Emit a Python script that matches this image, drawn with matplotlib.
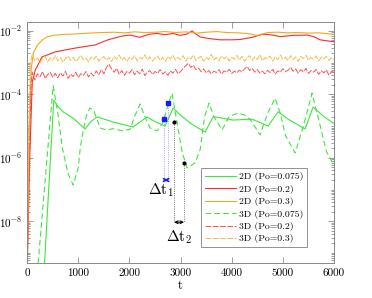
import numpy as np
import matplotlib
matplotlib.use("Agg")
import matplotlib.pyplot as plt
from matplotlib.ticker import FixedLocator, LogLocator, NullFormatter

plt.rcParams["font.family"] = ["cmr10", "DejaVu Serif"]
plt.rcParams["mathtext.fontset"] = "cm"
plt.rcParams["axes.formatter.use_mathtext"] = True

# ---- data (log10 of amplitude vs time t) ----
t_2d_075 = [330, 520, 600, 703, 900, 1133, 1250, 1368, 1700, 2070, 2345, 2500,
            2697, 2853, 3000, 3200, 3479, 3635, 3674, 4026, 4397, 4710, 4905,
            5100, 5433, 5590, 5800, 6000]
y_2d_075 = [-9.6, -4.18, -4.38, -4.55, -4.75, -5.09, -4.85, -4.71, -4.88, -5.03,
            -4.71, -4.86, -5.00, -4.43, -4.66, -4.92, -5.19, -4.71, -4.71, -4.81,
            -4.78, -5.00, -4.55, -4.78, -5.09, -4.40, -4.70, -4.92]

t_2d_02 = [0, 50, 100, 160, 290, 550, 940, 1330, 1580, 1860, 2010, 2200, 2400,
           2540, 2700, 2850, 2990, 3120, 3225, 3300, 3380, 3550, 3772, 4000,
           4163, 4400, 4612, 4800, 4944, 5200, 5472, 5600, 5726, 5900, 6000]
y_2d_02 = [-9.6, -6.0, -3.6, -3.23, -2.82, -2.66, -2.54, -2.44, -2.28, -2.16,
           -2.13, -2.20, -2.10, -2.08, -2.12, -2.08, -2.14, -2.10, -2.00, -2.10,
           -2.19, -2.24, -2.28, -2.28, -2.27, -2.20, -2.10, -2.13, -2.18, -2.14,
           -2.13, -2.18, -2.28, -2.32, -2.34]

t_2d_03 = [0, 40, 80, 120, 200, 300, 400, 550, 700, 900, 1100, 1300, 1500, 1700,
           1900, 2100, 2300, 2500, 2700, 2900, 3100, 3300, 3500, 3700, 3900,
           4100, 4300, 4500, 4700, 4900, 5100, 5300, 5500, 5700, 5900, 6000]
y_2d_03 = [-9.6, -5.0, -3.2, -2.70, -2.45, -2.28, -2.18, -2.13, -2.11, -2.10,
           -2.08, -2.06, -2.05, -2.04, -2.06, -2.03, -2.05, -2.04, -2.02, -2.05,
           -2.03, -2.07, -2.04, -2.02, -2.05, -2.06, -2.08, -2.14, -2.05, -2.04,
           -2.06, -2.05, -2.07, -2.06, -2.09, -2.11]

t_3d_075 = [200, 508, 600, 684, 800, 900, 1000, 1040, 1100, 1170, 1230, 1300,
            1427, 1550, 1700, 1850, 2012, 2100, 2208, 2300, 2404, 2540, 2650,
            2760, 2833, 2900, 3029, 3127, 3283, 3381, 3470, 3557, 3650, 3811,
            3950, 4124, 4250, 4358, 4554, 4700, 4847, 4950, 5050, 5238, 5400,
            5570, 5700, 5850, 5960, 6000]
y_3d_075 = [-9.6, -3.73, -4.6, -5.66, -6.5, -6.86, -6.3, -5.66, -5.1, -4.6,
            -4.43, -4.5, -5.06, -5.12, -5.08, -5.15, -5.10, -4.70, -4.30, -4.70,
            -5.06, -5.15, -4.90, -4.30, -3.96, -4.60, -5.82, -6.32, -6.16, -5.75,
            -4.70, -4.27, -4.70, -5.12, -4.70, -4.59, -4.65, -4.78, -5.28, -4.60,
            -4.12, -4.60, -5.30, -5.85, -5.00, -3.96, -4.80, -5.80, -6.13, -6.00]

t_noisy = np.arange(100, 6001, 50)

t_3d_02_head = [0, 40, 80]
y_3d_02_head = [-9.6, -6.0, -3.6]
y_3d_02 = [-3.30, -3.55, -3.35, -3.45, -3.28, -3.50, -3.38, -3.30, -3.46, -3.34,
           -3.48, -3.32, -3.42, -3.27, -3.50, -3.36, -3.44, -3.30, -3.47, -3.35,
           -3.40, -3.28, -3.45, -3.33, -3.42, -3.26, -3.38, -3.22, -3.35, -3.15,
           -3.05, -3.20, -3.30, -3.18, -3.36, -3.25, -3.40, -3.28, -3.33, -3.22,
           -3.38, -3.27, -3.35, -3.20, -3.41, -3.30, -3.25, -3.37, -3.28, -3.34,
           -3.22, -3.36, -3.29, -3.40, -3.26, -3.33, -3.21, -3.35, -3.28, -3.18,
           -3.10, -3.02, -3.15, -3.08, -3.22, -3.17, -3.28, -3.20, -3.32, -3.25,
           -3.35, -3.27, -3.31, -3.22, -3.36, -3.26, -3.30, -3.21, -3.34, -3.27,
           -3.32, -3.24, -3.29, -3.20, -3.12, -3.25, -3.18, -3.30, -3.22, -3.33,
           -3.27, -3.35, -3.24, -3.31, -3.21, -3.36, -3.26, -3.30, -3.19, -3.28,
           -3.24, -3.15, -3.27, -3.20, -3.33, -3.22, -3.29, -3.18, -3.34, -3.25,
           -3.30, -3.21, -3.37, -3.26, -3.32, -3.23, -3.40, -3.28, -3.30]

t_3d_03_head = [0, 30, 60]
y_3d_03_head = [-9.6, -5.5, -3.0]
y_3d_03 = [-2.75, -2.95, -2.85, -3.00, -2.88, -2.80, -2.97, -2.86, -2.92, -2.78,
           -2.94, -2.84, -2.99, -2.87, -2.79, -2.93, -2.83, -2.96, -2.88, -2.77,
           -2.91, -2.85, -2.98, -2.82, -2.90, -2.79, -2.95, -2.86, -2.81, -2.93,
           -2.84, -2.97, -2.80, -2.89, -2.76, -2.92, -2.85, -2.96, -2.83, -2.90,
           -2.78, -2.94, -2.84, -2.88, -2.75, -2.91, -2.82, -2.95, -2.86, -2.79,
           -2.93, -2.83, -2.97, -2.81, -2.89, -2.77, -2.92, -2.84, -2.90, -2.78,
           -2.95, -2.82, -2.88, -2.76, -2.93, -2.85, -2.80, -2.96, -2.83, -2.90,
           -2.74, -2.91, -2.84, -2.94, -2.79, -2.87, -2.81, -2.95, -2.83, -2.89,
           -2.77, -2.92, -2.80, -2.96, -2.85, -2.78, -2.93, -2.82, -2.90, -2.75,
           -2.94, -2.84, -2.88, -2.79, -2.95, -2.81, -2.91, -2.76, -2.89, -2.83,
           -2.93, -2.78, -2.90, -2.82, -2.96, -2.80, -2.87, -2.77, -2.92, -2.84,
           -2.89, -2.79, -2.94, -2.83, -2.88, -2.80, -2.93, -2.85, -2.90]

# annotation points
dt1_t = [2677, 2756]
dt1_y = [-4.78, -4.27]
dt1_base = -6.70
dt2_t = [2873, 3068]
dt2_y = [-4.87, -6.16]
dt2_base = -8.03

xticks = [0, 1000, 2000, 3000, 4000, 5000, 6000]
yticks = [-8, -6, -4, -2]

green = "#3ee63e"
red = "#ff2a2a"
orange = "#f4a81c"
red_l = "#ff5050"
orange_l = "#f5bb4a"

fig = plt.figure(figsize=(3.72, 2.98), dpi=100)
ax = fig.add_axes([0.073, 0.117, 0.825, 0.809])

p = lambda v: 10.0 ** np.asarray(v)

ax.plot(t_2d_075, p(y_2d_075), color=green, lw=0.8, label="2D (Po=0.075)")
ax.plot(t_2d_02, p(y_2d_02), color=red, lw=0.8, label="2D (Po=0.2)")
ax.plot(t_2d_03, p(y_2d_03), color=orange, lw=0.8, label="2D (Po=0.3)")
ax.plot(t_3d_075, p(y_3d_075), color=green, lw=0.8, ls=(0, (5, 3)),
        label="3D (Po=0.075)")
ax.plot(np.r_[t_3d_02_head, t_noisy], p(np.r_[y_3d_02_head, y_3d_02]),
        color=red_l, lw=0.7, ls=(0, (6, 1.5)), label="3D (Po=0.2)")
ax.plot(np.r_[t_3d_03_head, t_noisy], p(np.r_[y_3d_03_head, y_3d_03]),
        color=orange_l, lw=0.7, ls=(0, (6, 1.5)), label="3D (Po=0.3)")

# delta t annotations
for tt, yy in zip(dt1_t, dt1_y):
    ax.plot([tt, tt], [p(yy), p(dt1_base)], color="#8888ff", lw=0.6, ls=":")
ax.plot(dt1_t, p(dt1_y), "s", color="#1a1aff", ms=3.5)
ax.annotate("", xy=(dt1_t[0], p(dt1_base)), xytext=(dt1_t[1], p(dt1_base)),
            arrowprops=dict(arrowstyle="<->", color="#1a1aff", lw=1.2,
                            shrinkA=0, shrinkB=0, mutation_scale=5))
ax.text(2610, p(-7.02), r"$\Delta\mathrm{t}_1$", fontsize=11, ha="center",
        va="center")

for tt, yy in zip(dt2_t, dt2_y):
    ax.plot([tt, tt], [p(yy), p(dt2_base)], color="#444444", lw=0.6, ls=":")
ax.plot(dt2_t, p(dt2_y), "o", color="black", ms=2)
ax.annotate("", xy=(dt2_t[0], p(dt2_base)), xytext=(dt2_t[1], p(dt2_base)),
            arrowprops=dict(arrowstyle="<->", color="black", lw=0.8,
                            shrinkA=0, shrinkB=0, mutation_scale=5))
ax.text(2960, p(-8.5), r"$\Delta\mathrm{t}_2$", fontsize=11, ha="center",
        va="center")

ax.set_yscale("log")
ax.set_xlim(0, 6000)
ax.set_ylim(p(-9.32), p(-1.72))
ax.set_xticks(xticks)
ax.set_xticklabels([str(v) for v in xticks])
ax.yaxis.set_major_locator(FixedLocator(p(yticks)))
ax.set_yticklabels([r"$10^{%d}$" % v for v in yticks])
ax.yaxis.set_minor_locator(LogLocator(base=10, subs=np.arange(1, 10), numticks=30))
ax.yaxis.set_minor_formatter(NullFormatter())
ax.tick_params(which="both", direction="in", top=True, right=True,
               labelsize=8, color="#777777", width=0.5)
ax.tick_params(which="major", length=4)
ax.tick_params(which="minor", length=2)
for s in ax.spines.values():
    s.set_color("#888888")
    s.set_linewidth(0.7)
ax.set_xlabel("t", fontsize=9, labelpad=2)

leg = ax.legend(loc="lower left", bbox_to_anchor=(0.567, 0.066),
                borderaxespad=0, fontsize=7, frameon=True, fancybox=False,
                handlelength=3.2, handletextpad=0.3, labelspacing=0.35,
                borderpad=0.4)
leg.get_frame().set_edgecolor("#777777")
leg.get_frame().set_linewidth(0.7)

fig.savefig("out.png", dpi=100)
